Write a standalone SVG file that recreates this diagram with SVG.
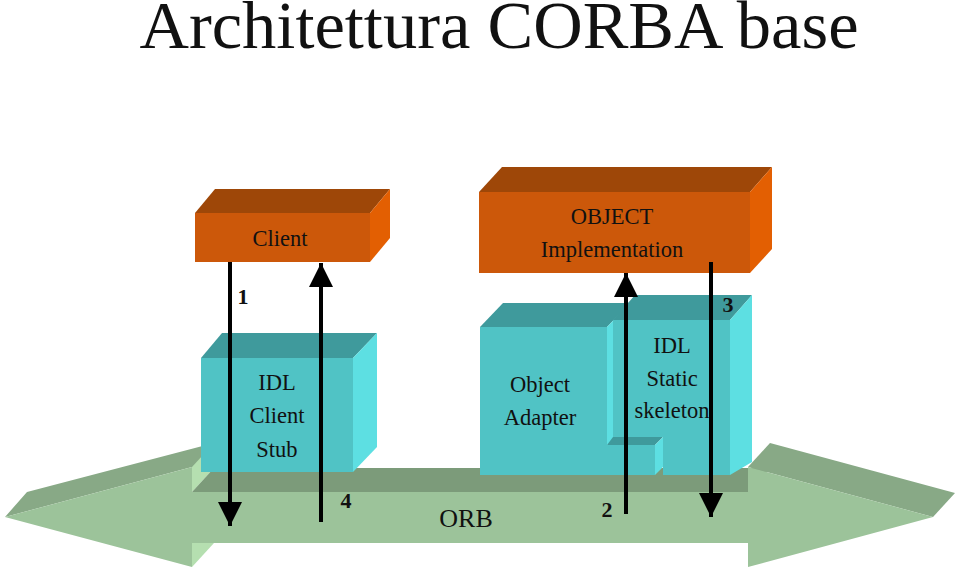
<svg xmlns="http://www.w3.org/2000/svg" width="959" height="571" viewBox="0 0 959 571">
<defs>
<style>
.t{font-family:"Liberation Serif","Times New Roman",serif;fill:#111;text-anchor:middle}
.lbl{font-size:22.5px}
.num{font-size:22px;font-weight:bold}
.of{fill:#CC580A}.ot{fill:#9E4708}.os{fill:#E35F02}
.cf{fill:#50C3C5}.ct{fill:#3F9A9C}.cs{fill:#5DDFE2}
.gf{fill:#9CC39A}.gt{fill:#7C9B7A}.gh{fill:#88A986}.gs{fill:#B5DFB0}
.ln{stroke:#000;stroke-width:4;fill:none}
</style>
<marker id="ah" viewBox="0 0 10 10" refX="10" refY="5" markerWidth="6" markerHeight="6.5" markerUnits="strokeWidth" orient="auto">
<path d="M0,0 L10,5 L0,10 z" fill="#000"/>
</marker>
</defs>
<rect width="959" height="571" fill="#fff"/>
<text class="t" x="499" y="48" font-size="68.5">Architettura CORBA base</text>

<g id="orb">
<polygon class="gh" points="27,492 214,443 214,468 192,467 5,517"/>
<polygon class="gs" points="192,467 214,443 214,468 192,492"/>
<polygon class="gs" points="192,543 214,519 214,543 192,567"/>
<polygon class="gt" points="192,492 214,468 770,468 748,492"/>
<polygon class="gh" points="748,467 770,443 955,493 933,517"/>
<polygon class="gf" points="5,517 192,467 192,492 748,492 748,467 933,517 748,567 748,543 192,543 192,567"/>
<text class="t" x="466" y="527" font-size="26">ORB</text>
</g>

<g id="client">
<polygon class="ot" points="195,213 215,189 390,189 370,213"/>
<polygon class="os" points="370,213 390,189 390,238 370,262"/>
<rect class="of" x="195" y="213" width="175" height="49"/>
<text class="t lbl" x="280" y="246">Client</text>
</g>

<g id="object-impl">
<polygon class="ot" points="479,192 502,167 772,167 750,192"/>
<polygon class="os" points="750,192 772,167 772,249 750,273"/>
<rect class="of" x="479" y="192" width="271" height="81"/>
<text class="t lbl" x="612" y="224">OBJECT</text>
<text class="t lbl" x="612" y="257">Implementation</text>
</g>

<g id="client-stub">
<polygon class="ct" points="201,358 222,333 377,333 353,358"/>
<polygon class="cs" points="353,358 377,333 377,447 353,472"/>
<rect class="cf" x="201" y="358" width="152" height="114"/>
<text class="t lbl" x="277" y="390">IDL</text>
<text class="t lbl" x="277" y="423">Client</text>
<text class="t lbl" x="277" y="457">Stub</text>
</g>

<g id="object-adapter">
<polygon class="ct" points="480,327 503,303 630,303 607,327"/>
<polygon class="cs" points="607,327 630,303 630,430 607,445"/>
<polygon class="cf" points="480,327 607,327 607,445 655,445 655,475 480,475"/>
<polygon class="ct" points="607,445 613,437 663,437 655,445"/>
<polygon class="cs" points="655,445 663,437 663,467 655,475"/>
<text class="t lbl" x="540" y="392">Object</text>
<text class="t lbl" x="540" y="425">Adapter</text>
</g>

<g id="skeleton">
<polygon class="ct" points="613,320 635,295 752,295 730,320"/>
<polygon class="cs" points="730,320 752,295 752,462 730,475"/>
<polygon class="cf" points="613,320 730,320 730,475 663,475 663,437 613,437"/>
<text class="t lbl" x="672" y="353">IDL</text>
<text class="t lbl" x="672" y="386">Static</text>
<text class="t lbl" x="672" y="418">skeleton</text>
</g>

<g id="connectors">
<line class="ln" x1="230" y1="262" x2="230" y2="526" marker-end="url(#ah)"/>
<line class="ln" x1="321" y1="522" x2="321" y2="263" marker-end="url(#ah)"/>
<line class="ln" x1="626" y1="514" x2="626" y2="273" marker-end="url(#ah)"/>
<line class="ln" x1="711" y1="262" x2="711" y2="517" marker-end="url(#ah)"/>
<text class="t num" x="243" y="304">1</text>
<text class="t num" x="346" y="508">4</text>
<text class="t num" x="607" y="517">2</text>
<text class="t num" x="728" y="312">3</text>
</g>
</svg>
